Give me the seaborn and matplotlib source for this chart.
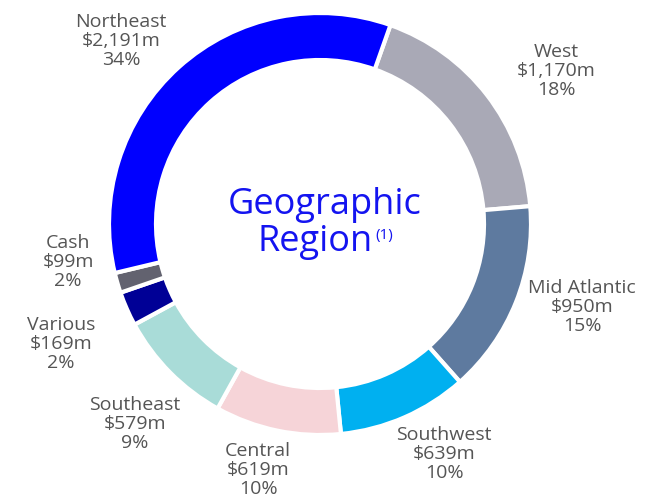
import matplotlib
matplotlib.use("Agg")
import matplotlib.pyplot as plt
import seaborn as sns

sns.set_theme(style="white")
plt.rcParams['font.family'] = ['Open Sans', 'DejaVu Sans']

regions = ["West", "Mid Atlantic", "Southwest", "Central", "Southeast", "Various", "Cash", "Northeast"]
values_m = [1170, 950, 639, 619, 579, 169, 99, 2191]
value_labels = ["$1,170m", "$950m", "$639m", "$619m", "$579m", "$169m", "$99m", "$2,191m"]
pct_labels = ["18%", "15%", "10%", "10%", "9%", "2%", "2%", "34%"]
colors = ["#A9A9B6", "#5E7A9F", "#00B0F0", "#F6D4D8", "#A9DCD8", "#000096", "#62626F", "#0000FF"]

# label anchor positions (pixel units relative to figure)
label_pos = [(556, 71), (582, 307), (444, 454), (258, 470), (135, 424), (61, 344), (68, 262), (121, 41)]

W, H = 669, 502
cx, cy = 320, 225
R = 211

fig = plt.figure(figsize=(W / 100, H / 100), dpi=100)
ax = fig.add_axes([0, 0, 1, 1])
ax.pie(values_m, colors=colors, radius=R, center=(0, 0), startangle=70.5,
       counterclock=False,
       wedgeprops=dict(width=47, edgecolor="white", linewidth=3))
ax.set_xlim(-cx, W - cx)
ax.set_ylim(-(H - cy), cy)
ax.set_aspect("equal")
ax.axis("off")

for name, v, p, (px, py) in zip(regions, value_labels, pct_labels, label_pos):
    ax.text(px - cx, cy - py, f"{name}\n{v}\n{p}".replace("$", r"\$"), ha="center", va="center",
            fontsize=14, color="#555555", linespacing=1.08)

ax.text(325 - cx, cy - 205, "Geographic", ha="center", va="center", fontsize=26, color="#1414F0")
ax.text(315 - cx, cy - 242, "Region", ha="center", va="center", fontsize=26, color="#1414F0")
ax.text(375 - cx, cy - 236, "(1)", ha="left", va="center", fontsize=11, color="#1414F0")

fig.savefig("out.png", dpi=100)
